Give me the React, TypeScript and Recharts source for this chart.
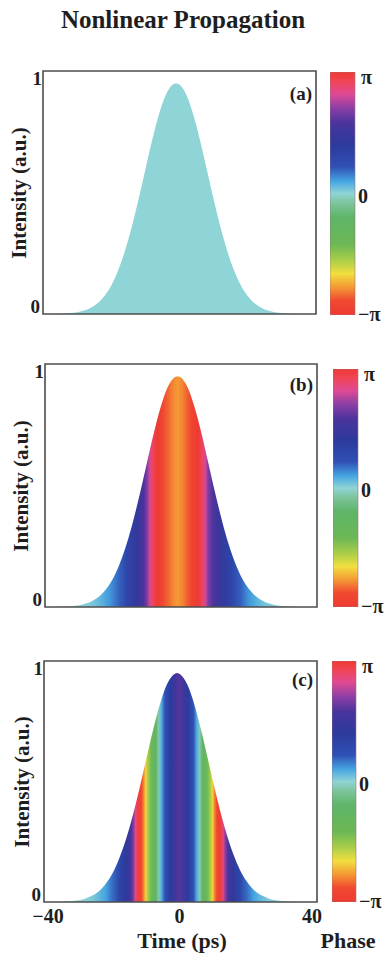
import React from 'react';
import { AreaChart, Area, XAxis, YAxis, BarChart, Bar, ReferenceArea } from 'recharts';

// ---------- data ----------
const timePs = [-40, -38, -36, -34, -32, -30, -28, -26, -24, -22, -20, -18, -16, -14, -12, -10, -8, -6, -4, -2, -1, 0, 2, 4, 6, 8, 10, 12, 14, 16, 18, 20, 22, 24, 26, 28, 30, 32, 34, 36, 38, 40];
const intensity = [0, 0, 0.001, 0.002, 0.004, 0.007, 0.014, 0.026, 0.044, 0.074, 0.117, 0.179, 0.259, 0.358, 0.472, 0.595, 0.716, 0.822, 0.902, 0.944, 0.95, 0.944, 0.902, 0.822, 0.716, 0.595, 0.472, 0.358, 0.259, 0.179, 0.117, 0.074, 0.044, 0.026, 0.014, 0.007, 0.004, 0.002, 0.001, 0, 0, 0];

const phaseATimes = [-40, 40];
const phaseA = [0, 0];
const phaseBTimes = [-30, -26, -24, -21, -18, -16, -13, -11, -10, -9.2, -8.5, -7, -5.5, -4, -2.5, -1, 0.5, 1.8, 3, 5, 6.3, 7.2, 8, 9.5, 12, 15, 17.5, 20, 23, 25, 30];
const phaseB = [0, 0.03, 0.06, 0.12, 0.2, 0.3, 0.45, 0.58, 0.68, 0.8, 0.9, 1.0, 1.08, 1.15, 1.2, 1.23, 1.2, 1.15, 1.08, 1.0, 0.9, 0.8, 0.68, 0.58, 0.45, 0.3, 0.2, 0.12, 0.06, 0.03, 0];
const phaseCTimes = [-30, -26, -24, -22, -20, -18, -16, -14.5, -13.8, -13.2, -12.5, -11.5, -10.8, -10.2, -9.6, -8.5, -7.2, -6.4, -5.6, -4.6, -3, -1.5, -0.4, 0.8, 2.2, 3.8, 4.8, 5.6, 6.5, 7.8, 8.8, 9.4, 10, 10.7, 11.8, 12.5, 13.2, 14, 15.5, 17.5, 19.5, 21.5, 23.5, 26, 30];
const phaseC = [0, 0.02, 0.06, 0.1, 0.18, 0.3, 0.42, 0.55, 0.68, 0.85, 0.97, 1.08, 1.2, 1.32, 1.45, 1.6, 1.78, 1.95, 2.08, 2.22, 2.38, 2.52, 2.6, 2.52, 2.38, 2.22, 2.08, 1.95, 1.78, 1.6, 1.45, 1.32, 1.2, 1.08, 0.97, 0.85, 0.68, 0.55, 0.42, 0.3, 0.18, 0.1, 0.06, 0.02, 0];

// colour map of the phase bar (units of pi)
const cmapPhase = [-1, -0.88, -0.77, -0.66, -0.56, -0.42, -0.2, -0.08, 0, 0.1, 0.22, 0.4, 0.58, 0.7, 0.82, 0.92, 1];
const cmapColor = ['#ee3a32', '#f04a30', '#f49a34', '#f2de40', '#b0d048', '#6cb854', '#5eb468', '#7cc49a', '#8fd4d6', '#46a6e2', '#3050b6', '#2c3a9c', '#4a349c', '#8a3ea6', '#e04a94', '#f04458', '#ee3a32'];

const xTicks = [-40, 0, 40];
const yTicks = [0, 1];
const phaseTicks = [-Math.PI, 0, Math.PI];
const panelLabels = ['(a)', '(b)', '(c)'];
const phaseBar = [{ k: 'phase', range: [-Math.PI, Math.PI] }];

// ---------- helpers ----------
const FONT = '"Liberation Serif", "Times New Roman", serif';
const TXT = '#1e1e1e';
const BORDER = '#4d4d4d';

function hexToRgb(h: string) {
  const n = parseInt(h.slice(1), 16);
  return [(n >> 16) & 255, (n >> 8) & 255, n & 255];
}
function phaseColor(phi: number) {
  const w = ((((phi + 1) % 2) + 2) % 2) - 1;
  for (let i = 0; i < cmapPhase.length - 1; i++) {
    const a = cmapPhase[i], b = cmapPhase[i + 1];
    if (w >= a && w <= b) {
      const f = b === a ? 0 : (w - a) / (b - a);
      const c1 = hexToRgb(cmapColor[i]), c2 = hexToRgb(cmapColor[i + 1]);
      const c = c1.map((v, k) => Math.round(v + (c2[k] - v) * f));
      return `rgb(${c[0]},${c[1]},${c[2]})`;
    }
  }
  return cmapColor[0];
}

const areaData = timePs.map((t, i) => ({ t, i: intensity[i] }));

type Rect = { l: number; t: number; r: number; b: number };

const tickFont = { fontFamily: FONT, fontWeight: 'bold' as const, fill: TXT };

function YTick(props: any) {
  const { x, y, payload } = props;
  const v = payload.value;
  const dy = v === 1 ? 7 : -8;
  const dx = v === 1 ? 2 : 0;
  return (
    <text x={x + dx} y={y + dy} textAnchor="end" dominantBaseline="central" fontSize={19} {...tickFont}>
      {String(v)}
    </text>
  );
}

function XTick(props: any) {
  const { x, y, payload } = props;
  const v = payload.value;
  const dx = v < 0 ? 4 : v > 0 ? -5 : -1;
  return (
    <text x={x + dx} y={y + 15} textAnchor="middle" fontSize={20} {...tickFont}>
      {v < 0 ? '\u2212' + Math.abs(v) : String(v)}
    </text>
  );
}

function PhaseTick(props: any) {
  const { x, y, payload } = props;
  const v = payload.value;
  const label = v > 0.1 ? '\u03c0' : v < -0.1 ? '\u2212\u03c0' : '0';
  const dy = v > 0.1 ? 5 : v < -0.1 ? -1 : 2;
  const dx = v > 0.1 ? 3 : 0;
  return (
    <text x={x + dx} y={y + dy} textAnchor="start" dominantBaseline="central" fontSize={20} {...tickFont}>
      {label}
    </text>
  );
}

function Panel({ id, rect, phaseT, phaseV, showX }: { id: string; rect: Rect; phaseT: number[]; phaseV: number[]; showX: boolean }) {
  const { l, t, r, b } = rect;
  const H = b - t;
  const mt = 8;
  const mr = 14;
  const xh = 34;
  const width = r + mr;
  const height = mt + H + xh;
  return (
    <div style={{ position: 'absolute', left: 0, top: t - mt }}>
      <AreaChart width={width} height={height} data={areaData} margin={{ top: mt, right: mr, bottom: 0, left: 0 }}>
        <defs>
          <linearGradient id={id} x1="0" y1="0" x2="1" y2="0">
            {phaseT.map((tt, k) => (
              <stop key={k} offset={(tt + 40) / 80} stopColor={phaseColor(phaseV[k])} />
            ))}
          </linearGradient>
        </defs>
        <XAxis
          dataKey="t"
          type="number"
          domain={[-40, 40]}
          ticks={xTicks}
          interval={0}
          height={xh}
          tick={showX ? <XTick /> : false}
          axisLine={false}
          tickLine={false}
          tickSize={0}
          tickMargin={6}
          allowDataOverflow
        />
        <YAxis
          type="number"
          domain={[0, 1]}
          ticks={yTicks}
          interval={0}
          width={l}
          tick={<YTick />}
          tickLine={false}
          tickSize={0}
          tickMargin={3}
          axisLine={false}
        />
        <Area dataKey="i" type="monotone" stroke="none" fill={`url(#${id})`} fillOpacity={1} isAnimationActive={false} />
        <ReferenceArea x1={-40} x2={40} y1={0} y2={1} fill="none" stroke={BORDER} strokeWidth={1.6} />
      </AreaChart>
    </div>
  );
}

function ColorBar({ id, rect }: { id: string; rect: Rect }) {
  const { l, t, r, b } = rect;
  const mt = 10, mb = 10, yw = 36;
  const revP = [...cmapPhase].reverse();
  const revC = [...cmapColor].reverse();
  return (
    <div style={{ position: 'absolute', left: l, top: t - mt }}>
      <BarChart width={r - l + yw} height={b - t + mt + mb} data={phaseBar} margin={{ top: mt, right: 0, bottom: mb, left: 0 }} barCategoryGap={0}>
        <defs>
          <linearGradient id={id} x1="0" y1="0" x2="0" y2="1">
            {revP.map((p, k) => (
              <stop key={k} offset={(1 - p) / 2} stopColor={revC[k]} />
            ))}
          </linearGradient>
        </defs>
        <XAxis dataKey="k" hide />
        <YAxis
          orientation="right"
          type="number"
          domain={[-Math.PI, Math.PI]}
          ticks={phaseTicks}
          interval={0}
          width={yw}
          axisLine={false}
          tickLine={false}
          tickSize={0}
          tickMargin={3}
          tick={<PhaseTick />}
          allowDataOverflow
        />
        <Bar dataKey="range" fill={`url(#${id})`} stroke="#9a7a80" strokeWidth={0.6} isAnimationActive={false} />
      </BarChart>
    </div>
  );
}

const panelRects: Rect[] = [
  { l: 43, t: 71, r: 316, b: 314 },
  { l: 45, t: 364, r: 317, b: 607 },
  { l: 44, t: 661, r: 317, b: 902 },
];
const barRects: Rect[] = [
  { l: 330, t: 72, r: 355, b: 315 },
  { l: 333, t: 369, r: 358, b: 607 },
  { l: 332, t: 661, r: 356, b: 902 },
];
const labelBaselineOffsets = [29, 27, 25];
const yLabelX = [19, 21, 22];

function Txt({ x, base, size, children, anchor = 'middle', weight = 'bold' }: any) {
  const top = base - 0.8375 * size;
  const tx = anchor === 'middle' ? '-50%' : anchor === 'end' ? '-100%' : '0';
  return (
    <div style={{ position: 'absolute', left: x, top, transform: `translateX(${tx})`, fontFamily: FONT, fontWeight: weight, fontSize: size, lineHeight: 1, color: TXT, whiteSpace: 'nowrap' }}>
      {children}
    </div>
  );
}

export default function App() {
  const phases = [
    [phaseATimes, phaseA],
    [phaseBTimes, phaseB],
    [phaseCTimes, phaseC],
  ];
  return (
    <div style={{ position: 'absolute', left: 0, top: 0, width: 388, height: 958, background: '#fff', overflow: 'hidden' }}>
      <Txt x={183} base={28} size={25}>Nonlinear Propagation</Txt>
      {panelRects.map((rc, k) => (
        <React.Fragment key={k}>
          <Panel id={`grad${k}`} rect={rc} phaseT={phases[k][0]} phaseV={phases[k][1]} showX={k === 2} />
          <ColorBar id={`cbar${k}`} rect={barRects[k]} />
          <Txt x={rc.r - 4} base={rc.t + labelBaselineOffsets[k]} size={19} anchor="end">{panelLabels[k]}</Txt>
          <div
            style={{
              position: 'absolute',
              left: yLabelX[k],
              top: (rc.t + rc.b) / 2,
              transform: 'translate(-50%, -50%) rotate(-90deg)',
              fontFamily: FONT,
              fontWeight: 'bold',
              fontSize: 21,
              lineHeight: 1,
              color: TXT,
              whiteSpace: 'nowrap',
            }}
          >
            Intensity (a.u.)
          </div>
        </React.Fragment>
      ))}
      <Txt x={182} base={948} size={22}>Time (ps)</Txt>
      <Txt x={348} base={948} size={22}>Phase</Txt>
    </div>
  );
}
